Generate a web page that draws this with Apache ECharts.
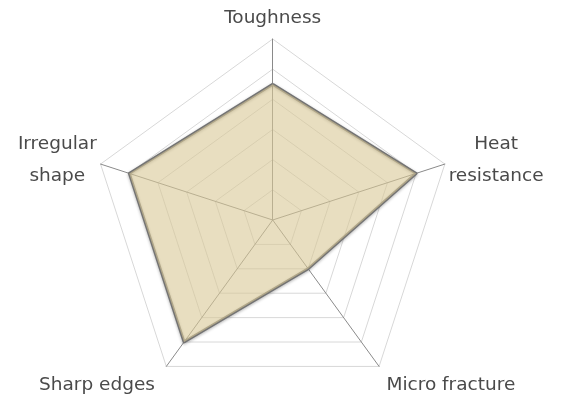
<!DOCTYPE html>
<html>
<head>
<meta charset="utf-8">
<script src="https://cdn.jsdelivr.net/npm/echarts@6/dist/echarts.min.js"></script>
<style>html,body{margin:0;padding:0;background:#fff}#c{width:563px;height:400px}</style>
</head>
<body>
<div id="c"></div>
<script>
// indicators in ECharts order (counter-clockwise starting at top)
const indicatorNames = ['Toughness', 'Irregular shape', 'Sharp edges', 'Micro fracture', 'Heat resistance'];
const indicatorMax = [6, 6, 6, 6, 6];
const seriesValues = [4.5, 5, 5, 2, 5];

const labelKey = {
  'Toughness': 't',
  'Irregular shape': 'l',
  'Sharp edges': 'b1',
  'Micro fracture': 'b2',
  'Heat resistance': 'r'
};
const labelText = {
  'Irregular shape': 'Irregular\nshape',
  'Heat resistance': 'Heat\nresistance'
};

const chart = echarts.init(document.getElementById('c'), null, {renderer: 'canvas'});
const FONT = '"DejaVu Sans", sans-serif';
const base = {fontFamily: FONT, fontSize: 18.5, color: '#4a4a4a', lineHeight: 18};
chart.setOption({
  animation: false,
  radar: {
    center: [272.7, 220],
    radius: 181,
    splitNumber: 6,
    shape: 'polygon',
    nameGap: 4,
    indicator: indicatorNames.map((n, i) => ({name: n, max: indicatorMax[i]})),
    axisName: {
      fontFamily: FONT, fontSize: 18.5, color: '#4a4a4a',
      formatter: function (name) {
        const k = labelKey[name];
        const txt = labelText[name] || name;
        return txt.split('\n').map(s => '{' + k + '|' + s + '}').join('\n');
      },
      rich: {
        t: Object.assign({}, base, {padding: [0, 0, 16, 0]}),
        l: Object.assign({}, base, {lineHeight: 32, align: 'center', padding: [0, 0, 6, 0]}),
        r: Object.assign({}, base, {lineHeight: 32, align: 'center', padding: [0, 0, 6, 0]}),
        b1: Object.assign({}, base, {padding: [32, 9, 0, 0]}),
        b2: Object.assign({}, base, {padding: [32, 0, 0, 5]})
      }
    },
    axisLine: {lineStyle: {color: '#8a8a8a', width: 1}},
    splitLine: {lineStyle: {color: '#d8d8d8', width: 1}},
    splitArea: {show: false}
  },
  series: [{
    type: 'radar',
    symbol: 'none',
    lineStyle: {color: '#737373', width: 2.8, shadowColor: 'rgba(0,0,0,0.3)', shadowBlur: 3, shadowOffsetY: 1},
    areaStyle: {color: 'rgb(217,200,150)', opacity: 0.6},
    data: [{value: seriesValues}]
  }]
});
</script>
</body>
</html>
